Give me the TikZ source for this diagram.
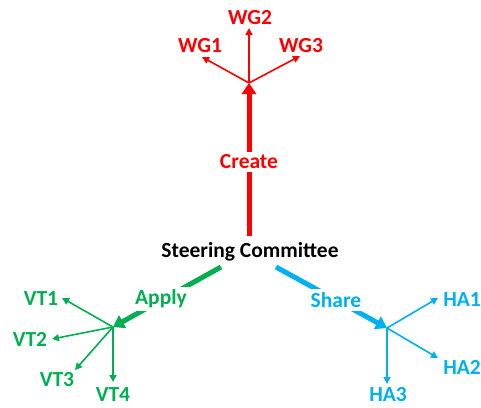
\documentclass[tikz,border=0pt]{standalone}
\usepackage{fontspec}
\setmainfont{Carlito}
\usetikzlibrary{arrows.meta}
\definecolor{cred}{HTML}{FF0000}
\definecolor{cgreen}{HTML}{00B050}
\definecolor{cblue}{HTML}{00B0F0}
\tikzset{
  lbl/.style={font=\fontsize{21.5}{24}\selectfont\bfseries, inner sep=1pt},
  biglbl/.style={lbl, fill=white, inner sep=3pt},
  thickarrow/.style={line width=5pt, -{Triangle[length=11pt,width=14pt]}},
  thinarrow/.style={line width=1.6pt, -{Triangle[length=7pt,width=7pt]}},
}
\begin{document}
\begin{tikzpicture}[x=1pt,y={(0,-1pt)}]
\useasboundingbox (0,0) rectangle (481,407);
% hubs and start points
\coordinate (hubR) at (249,83);
\coordinate (hubG) at (113,327);
\coordinate (hubB) at (387,328);
\coordinate (sR) at (249,236);
\coordinate (sG) at (221,267);
\coordinate (sB) at (276,267);
% thick arrows
\draw[thickarrow, cred] (sR) -- (hubR);
\draw[thickarrow, cgreen] (sG) -- (hubG);
\draw[thickarrow, cblue] (sB) -- (hubB);
% main labels
\node[lbl, text=black] (sc) at (250,252) {Steering Committee};
\node[biglbl, text=cred] (create) at (249,162) {Create};
\node[biglbl, text=cgreen] (apply) at (161,299) {Apply};
\node[biglbl, text=cblue] (share) at (336,300) {Share};
% red branch
\node[lbl, text=cred] (wg1) at (200,46) {WG1};
\node[lbl, text=cred] (wg2) at (250,18) {WG2};
\node[lbl, text=cred] (wg3) at (301,46) {WG3};
\coordinate (twg1) at (202,57);
\coordinate (twg2) at (249,28);
\coordinate (twg3) at (300,56);
\draw[thinarrow, cred] (hubR) -- (twg1);
\draw[thinarrow, cred] (hubR) -- (twg2);
\draw[thinarrow, cred] (hubR) -- (twg3);
% green branch
\node[lbl, text=cgreen] (vt1) at (41,299) {VT1};
\node[lbl, text=cgreen] (vt2) at (30,339) {VT2};
\node[lbl, text=cgreen] (vt3) at (57,380) {VT3};
\node[lbl, text=cgreen] (vt4) at (113,395) {VT4};
\coordinate (tvt1) at (62,298);
\coordinate (tvt2) at (52,339);
\coordinate (tvt3) at (75,370);
\coordinate (tvt4) at (113,382);
\draw[thinarrow, cgreen] (hubG) -- (tvt1);
\draw[thinarrow, cgreen] (hubG) -- (tvt2);
\draw[thinarrow, cgreen] (hubG) -- (tvt3);
\draw[thinarrow, cgreen] (hubG) -- (tvt4);
% blue branch
\node[lbl, text=cblue] (ha1) at (462,300) {HA1};
\node[lbl, text=cblue] (ha2) at (462,367) {HA2};
\node[lbl, text=cblue] (ha3) at (388,395) {HA3};
\coordinate (tha1) at (438,298);
\coordinate (tha2) at (438,358);
\coordinate (tha3) at (387,384);
\draw[thinarrow, cblue] (hubB) -- (tha1);
\draw[thinarrow, cblue] (hubB) -- (tha2);
\draw[thinarrow, cblue] (hubB) -- (tha3);
\end{tikzpicture}
\end{document}
